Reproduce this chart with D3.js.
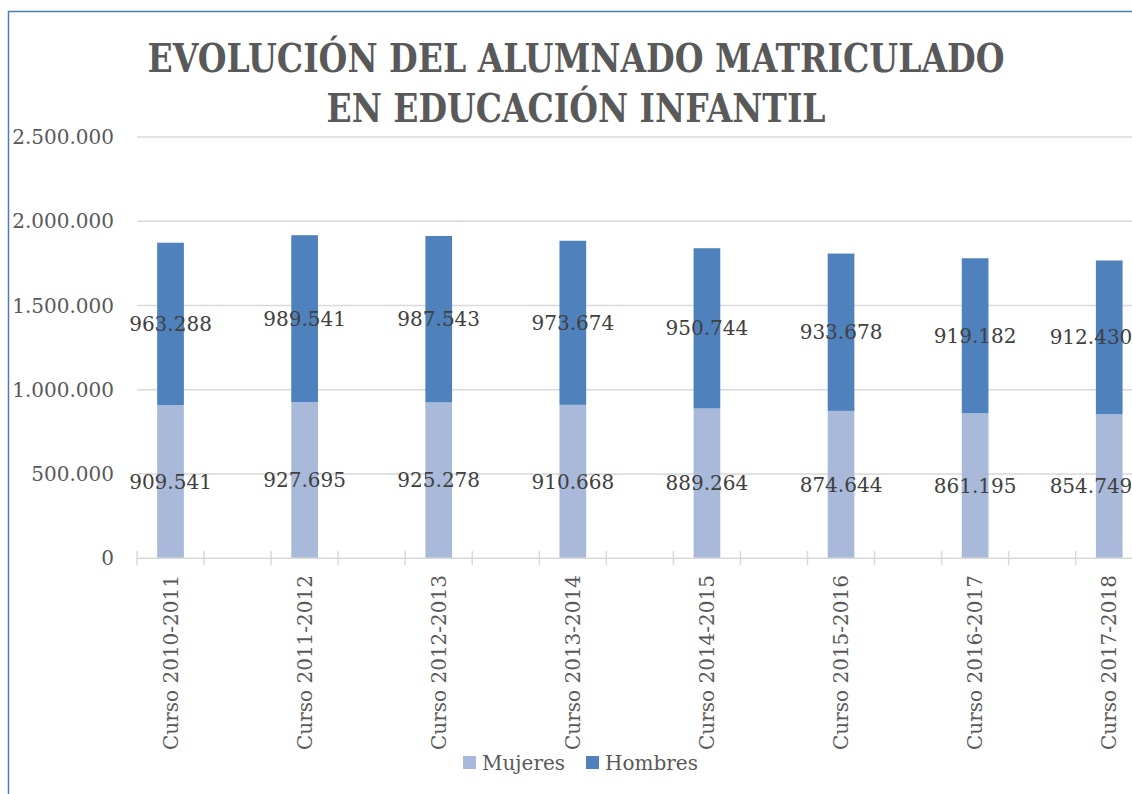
<!DOCTYPE html>
<html lang="es">
<head>
<meta charset="UTF-8">
<title>Evolución del alumnado matriculado</title>
<script src="https://d3js.org/d3.v7.min.js"></script>
<style>
  body { margin: 0; background: #ffffff; overflow: hidden; }
  svg { display: block; }
  text { font-family: "DejaVu Serif", "Liberation Serif", serif; }
</style>
</head>
<body>
<div id="chart"></div>
<script>
// data
const cursos = ["Curso 2010-2011", "Curso 2011-2012", "Curso 2012-2013", "Curso 2013-2014",
                "Curso 2014-2015", "Curso 2015-2016", "Curso 2016-2017", "Curso 2017-2018"];
const mujeres = [909541, 927695, 925278, 910668, 889264, 874644, 861195, 854749];
const hombres = [963288, 989541, 987543, 973674, 950744, 933678, 919182, 912430];
const yTicks = [0, 500000, 1000000, 1500000, 2000000, 2500000];
const seriesNames = ["Mujeres", "Hombres"];
const colors = ["#a9b9da", "#4f81bd"];

const width = 1132, height = 794;
const svg = d3.select("#chart").append("svg")
    .attr("width", width).attr("height", height);

// chart frame (only left and top edges visible)
svg.append("path")
    .attr("d", `M8.5,${height} V11.5 H${width}`)
    .attr("fill", "none").attr("stroke", "#4a7ebb").attr("stroke-width", 1.5);

// title
const title = svg.append("g").attr("fill", "#595959").attr("font-weight", "bold")
    .attr("text-anchor", "middle").style("font-size", "40px").style("white-space", "pre");
title.append("text").attr("x", 576).attr("y", 72)
    .attr("textLength", 857).attr("lengthAdjust", "spacingAndGlyphs")
    .text("EVOLUCIÓN DEL ALUMNADO MATRICULADO");
title.append("text").attr("x", 576).attr("y", 122)
    .attr("textLength", 499).attr("lengthAdjust", "spacingAndGlyphs")
    .text("EN EDUCACIÓN  INFANTIL");

// scales
const x = d3.scaleBand().domain(cursos).range([137, 137 + 8 * 134.1]).padding(0);
const y = d3.scaleLinear().domain([0, 2500000]).range([558.3, 137]);
const bw = x.bandwidth();
const barW = 26.7;
const cx = d => x(d) + bw / 4;

const fmt = v => d3.format(",")(v).replace(/,/g, ".");

// gridlines + y labels
const grid = svg.append("g");
grid.selectAll("line").data(yTicks.slice(1)).join("line")
    .attr("x1", 137).attr("x2", width)
    .attr("y1", d => y(d)).attr("y2", d => y(d))
    .attr("stroke", "#d9d9d9").attr("stroke-width", 1.5);
grid.selectAll("text").data(yTicks).join("text")
    .attr("x", 114).attr("y", d => y(d)).attr("dy", "0.35em")
    .attr("text-anchor", "end").attr("fill", "#595959")
    .style("font-size", "20px")
    .text(fmt);

// stacked bars
const table = cursos.map((c, i) => ({ curso: c, Mujeres: mujeres[i], Hombres: hombres[i] }));
const stack = d3.stack().keys(seriesNames)(table);

const layers = svg.append("g").selectAll("g").data(stack).join("g")
    .attr("fill", (d, i) => colors[i]);
layers.selectAll("rect").data(d => d).join("rect")
    .attr("x", d => cx(d.data.curso) - barW / 2)
    .attr("width", barW)
    .attr("y", d => y(d[1]))
    .attr("height", d => y(d[0]) - y(d[1]));

// x axis line and ticks
const axis = svg.append("g").attr("stroke", "#d9d9d9").attr("stroke-width", 1.5);
axis.append("line").attr("x1", 137).attr("x2", width).attr("y1", 558.3).attr("y2", 558.3);
const tickPos = [];
cursos.forEach(c => { tickPos.push(x(c)); tickPos.push(x(c) + bw / 2); });
axis.selectAll(".tick").data(tickPos).join("line").attr("class", "tick")
    .attr("x1", d => d).attr("x2", d => d).attr("y1", 551).attr("y2", 565);

// data labels (kept inside the plot edge, like the original)
svg.append("g").selectAll("g").data(stack).join("g")
    .selectAll("text").data(d => d).join("text")
    .attr("x", d => Math.min(cx(d.data.curso), 1091))
    .attr("y", d => y((d[0] + d[1]) / 2))
    .attr("dy", "0.35em").attr("text-anchor", "middle")
    .attr("fill", "#404040").style("font-size", "20px")
    .text(d => fmt(d[1] - d[0]));

// category labels (rotated)
svg.append("g").selectAll("text").data(cursos).join("text")
    .attr("transform", d => `translate(${cx(d)},575) rotate(-90)`)
    .attr("text-anchor", "end").attr("dy", "0.35em")
    .attr("fill", "#595959").style("font-size", "20px")
    .text(d => d);

// legend
const legendX = [463, 586];
const legend = svg.append("g").selectAll("g").data(seriesNames).join("g")
    .attr("transform", (d, i) => `translate(${legendX[i]},756)`);
legend.append("rect").attr("width", 13).attr("height", 13)
    .attr("fill", (d, i) => colors[i]);
legend.append("text").attr("x", 19).attr("y", 6.5).attr("dy", "0.35em")
    .attr("fill", "#595959").style("font-size", "20px")
    .text(d => d);
</script>
</body>
</html>
